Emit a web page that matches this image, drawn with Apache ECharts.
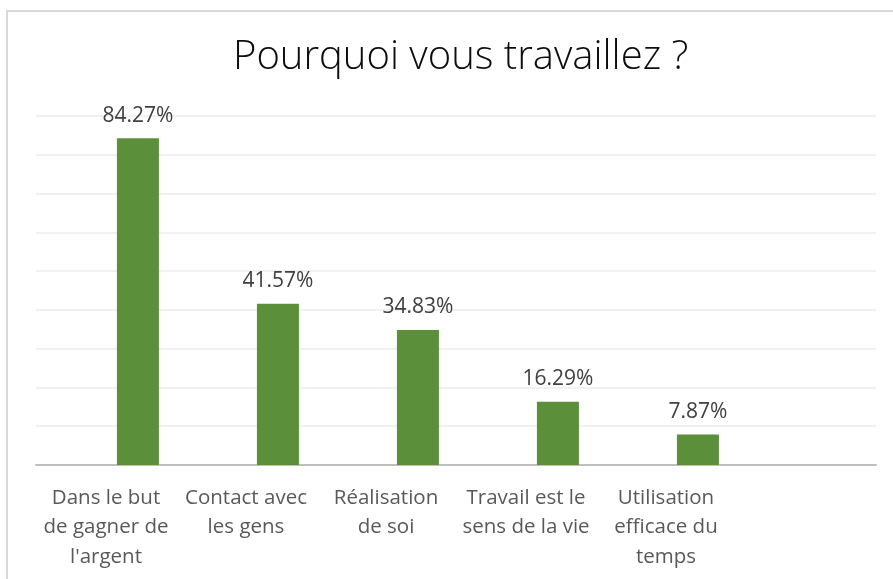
<!DOCTYPE html>
<html>
<head>
<meta charset="utf-8">
<script src="https://cdn.jsdelivr.net/npm/echarts@6/dist/echarts.min.js"></script>
<style>
  html, body { margin: 0; padding: 0; background: #fff; }
  #chart { width: 893px; height: 579px; }
</style>
</head>
<body>
<div id="chart"></div>
<script>
// survey answers (percent)
const categories = [
  "Dans le but\nde gagner de\nl'argent",
  "Contact avec\nles gens",
  "Réalisation\nde soi",
  "Travail est le\nsens de la vie",
  "Utilisation\nefficace du\ntemps",
  ""
];
const values = [84.27, 41.57, 34.83, 16.29, 7.87, null];
// empty series: Excel kept a blank one, which pushes the bars right
const blank = [null, null, null, null, null, null];

const font = "'Open Sans', 'Noto Sans', sans-serif";

var chart = echarts.init(document.getElementById('chart'));
var option = {
  animation: false,
  title: {
    text: 'Pourquoi vous travaillez ?',
    left: 228,
    top: 33,
    textStyle: { fontFamily: font, fontSize: 40, fontWeight: 300, color: '#0d0d0d' }
  },
  graphic: [{
    type: 'rect',
    shape: { x: 7, y: 11, width: 1000, height: 1000 },
    style: { fill: 'none', stroke: '#d9d9d9', lineWidth: 2 }
  }],
  grid: { left: 36, right: 17, top: 116, bottom: 114 },
  xAxis: {
    type: 'category',
    data: categories,
    axisTick: { show: false },
    axisLine: { lineStyle: { color: '#bfbfbf', width: 2 } },
    axisLabel: {
      interval: 0,
      margin: 18,
      fontFamily: font,
      fontSize: 20.5,
      lineHeight: 29.5,
      color: '#595959'
    }
  },
  yAxis: {
    type: 'value',
    min: 0,
    max: 90,
    interval: 10,
    axisLabel: { show: false },
    axisLine: { show: false },
    axisTick: { show: false },
    splitLine: { lineStyle: { color: '#ececec', width: 1.5 } }
  },
  series: [
    { type: 'bar', data: blank, barWidth: 42, barGap: '52%', silent: true },
    {
      type: 'bar',
      data: values,
      barWidth: 42,
      barGap: '52%',
      itemStyle: { color: '#5b8f3a' },
      label: {
        show: true,
        position: 'top',
        distance: 12,
        formatter: p => p.value.toFixed(2) + '%',
        fontFamily: font,
        fontSize: 21,
        color: '#404040'
      }
    }
  ]
};
chart.setOption(option);
</script>
</body>
</html>
